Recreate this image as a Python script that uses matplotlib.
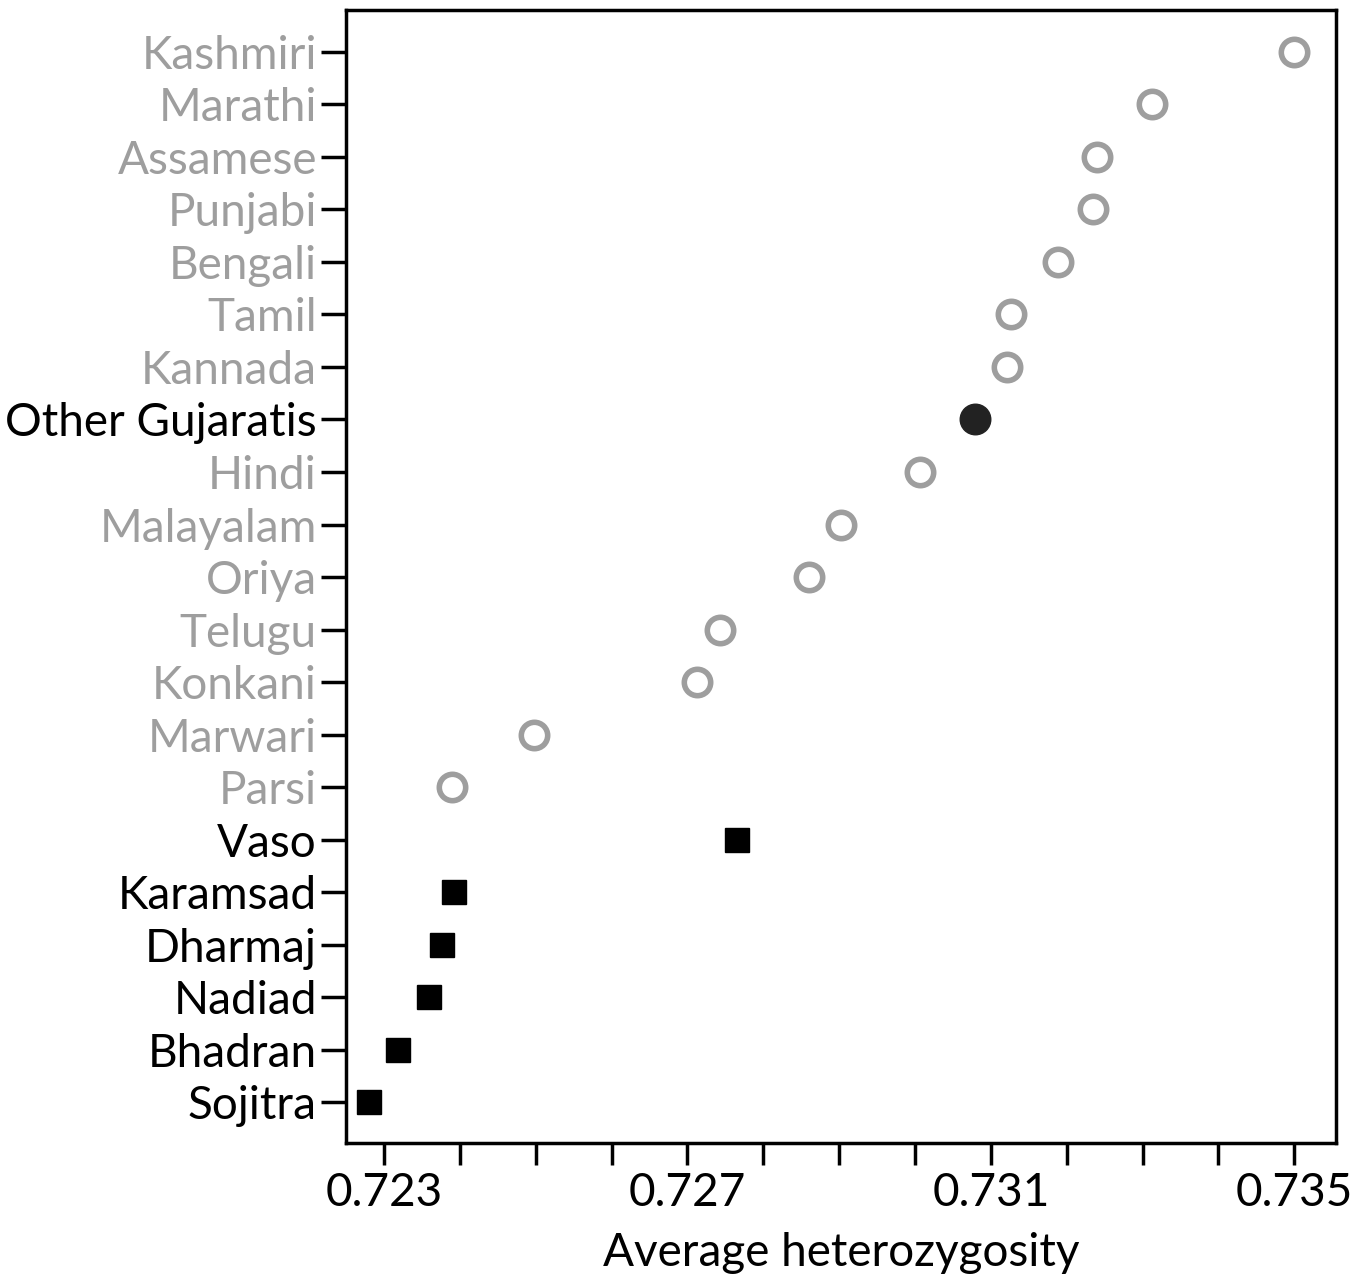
import matplotlib
matplotlib.use("Agg")
import matplotlib.pyplot as plt
from matplotlib.ticker import MultipleLocator, FixedLocator

plt.rcParams['font.family'] = ['Lato', 'DejaVu Sans']

# Data (top to bottom)
labels = ["Kashmiri", "Marathi", "Assamese", "Punjabi", "Bengali", "Tamil", "Kannada",
          "Other Gujaratis", "Hindi", "Malayalam", "Oriya", "Telugu", "Konkani", "Marwari",
          "Parsi", "Vaso", "Karamsad", "Dharmaj", "Nadiad", "Bhadran", "Sojitra"]
values = [0.73500, 0.73312, 0.73240, 0.73235, 0.73189, 0.73126, 0.73121,
          0.73079, 0.73006, 0.72903, 0.72860, 0.72743, 0.72713, 0.72498,
          0.72390, 0.72766, 0.72392, 0.72377, 0.72360, 0.72318, 0.72280]
groups = ["india"] * 7 + ["gujarati"] + ["india"] * 7 + ["patel"] * 6

gray = "#9e9e9e"
fig = plt.figure(figsize=(13.71, 12.75), dpi=100)
ax = fig.add_axes([0.2524, 0.1035, 0.9745 - 0.2524, 0.9922 - 0.1035])

n = len(labels)
ys = [n - 1 - i for i in range(n)]
for y, v, g in zip(ys, values, groups):
    if g == "india":
        ax.plot(v, y, marker="o", ms=19, mfc="white", mec=gray, mew=4, ls="none")
    elif g == "gujarati":
        ax.plot(v, y, marker="o", ms=22, mfc="#222222", mec="#222222", mew=1, ls="none")
    else:
        ax.plot(v, y, marker="s", ms=17.5, mfc="black", mec="black", mew=1, ls="none")

ax.set_ylim(-0.78, n - 1 + 0.8)
ax.set_xlim(0.7225, 0.73555)
ax.set_yticks(ys)
ax.set_yticklabels(labels, fontsize=33)
for lbl, g in zip(ax.get_yticklabels(), groups):
    lbl.set_color(gray if g == "india" else "black")

ax.xaxis.set_major_locator(FixedLocator([0.723, 0.727, 0.731, 0.735]))
ax.xaxis.set_minor_locator(MultipleLocator(0.001))
ax.set_xticklabels(["0.723", "0.727", "0.731", "0.735"], fontsize=33)
ax.tick_params(axis="both", which="both", direction="out", width=2.5, color="black")
ax.tick_params(axis="y", length=18, pad=3)
ax.tick_params(axis="x", which="both", length=16, pad=5)
ax.set_xlabel("Average heterozygosity", fontsize=33, labelpad=13)
for s in ax.spines.values():
    s.set_linewidth(2.5)

fig.savefig("out.png", dpi=100)
